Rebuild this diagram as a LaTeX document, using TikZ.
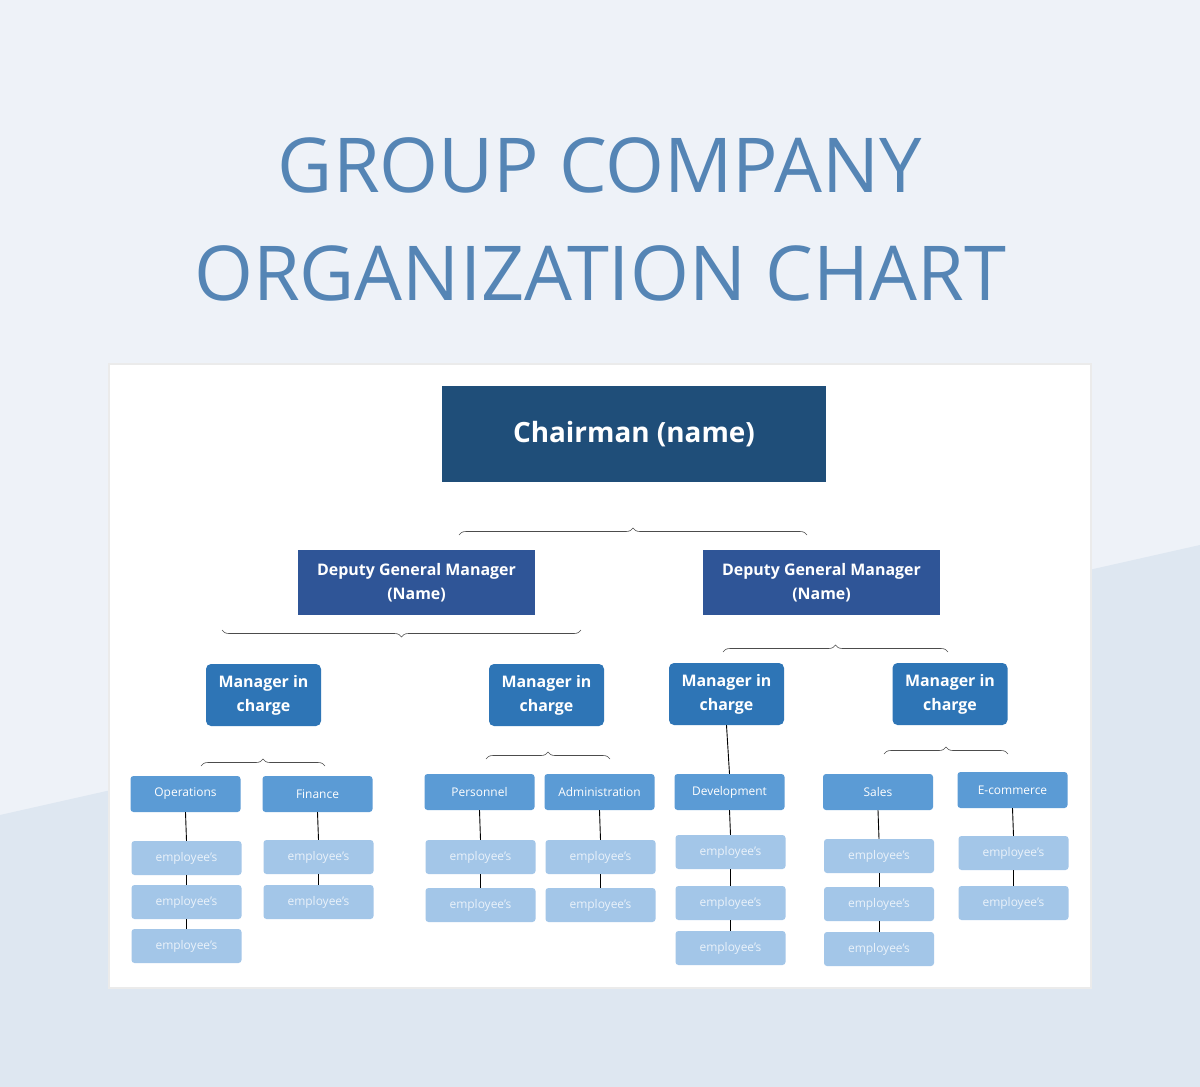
\documentclass[tikz,border=0pt]{standalone}
\usepackage{fontspec}
\setmainfont{Open Sans}
\usetikzlibrary{decorations.pathreplacing}
\definecolor{bgA}{HTML}{EEF2F8}
\definecolor{bgB}{HTML}{DEE7F1}
\definecolor{ttl}{HTML}{5585B5}
\definecolor{cch}{HTML}{1F4E79}
\definecolor{cdep}{HTML}{2F5597}
\definecolor{cman}{HTML}{2E75B6}
\definecolor{cdpt}{HTML}{5B9BD5}
\definecolor{cemp}{HTML}{A3C6E8}
\definecolor{temp}{HTML}{EAF2FA}
\tikzset{
 chair/.style={fill=cch,text=white,minimum width=384bp,minimum height=96bp,font=\fontsize{28}{32}\selectfont\bfseries},
 deputy/.style={fill=cdep,text=white,minimum width=237bp,minimum height=65bp,align=center,font=\fontsize{16}{24}\selectfont\bfseries},
 mgr/.style={fill=cman,text=white,rounded corners=5bp,minimum width=115bp,minimum height=62bp,align=center,font=\fontsize{16}{24}\selectfont\bfseries},
 dept/.style={fill=cdpt,text=white,rounded corners=3bp,minimum width=110bp,minimum height=36bp,font=\fontsize{12}{14}\selectfont},
 emp/.style={fill=cemp,text=temp,rounded corners=3bp,minimum width=110bp,minimum height=34bp,font=\fontsize{12}{14}\selectfont},
 brc/.style={draw=black!70,line width=0.6bp,decorate,decoration={brace,amplitude=7bp}},
 ln/.style={draw=black,line width=0.9bp}
}
\begin{document}
\begin{tikzpicture}[x=1bp,y=-1bp]
\fill[bgA] (0,0) rectangle (1200,1087);
\fill[bgB] (0,815) -- (1200,545) -- (1200,1087) -- (0,1087) -- cycle;
\useasboundingbox (0,0) rectangle (1200,1087);
\fill[black!8] (108,363) rectangle (1092,989);
\fill[white] (110,365) rectangle (1090,987);
\node[text=ttl,font=\fontsize{76}{80}\selectfont] (t1) at (600,165) {GROUP COMPANY};
\node[text=ttl,font=\fontsize{76}{80}\selectfont] (t2) at (600,273) {ORGANIZATION CHART};
\node[chair] (ch) at (634,434) {Chairman (name)};
\node[deputy] (d1) at (416.5,582.5) {Deputy General Manager\\(Name)};
\node[deputy] (d2) at (821.5,582.5) {Deputy General Manager\\(Name)};
\node[mgr] (m1) at (263.5,695) {Manager in\\charge};
\node[mgr] (m2) at (546.5,695) {Manager in\\charge};
\node[mgr] (m3) at (726.5,694) {Manager in\\charge};
\node[mgr] (m4) at (950,694) {Manager in\\charge};
% braces
\coordinate (b1a) at (459,535); \coordinate (b1b) at (807,535);
\draw[brc] (b1a) -- (b1b);
\coordinate (b2a) at (222,630); \coordinate (b2b) at (581,630);
\draw[brc,decoration={mirror}] (b2a) -- (b2b);
\coordinate (b3a) at (723,652); \coordinate (b3b) at (948,652);
\draw[brc] (b3a) -- (b3b);
\coordinate (b4a) at (201,766); \coordinate (b4b) at (325,766);
\draw[brc] (b4a) -- (b4b);
\coordinate (b5a) at (486,759); \coordinate (b5b) at (610,759);
\draw[brc] (b5a) -- (b5b);
\coordinate (b6a) at (884,754); \coordinate (b6b) at (1008,754);
\draw[brc] (b6a) -- (b6b);
% columns
\foreach \n/\x/\y/\t/\ys in {
 o/185.5/794/Operations/{858,902,946},
 f/317.5/794/Finance/{857,902},
 p/479.5/792/Personnel/{857,905},
 a/599.5/792/Administration/{857,905},
 v/729.5/792/Development/{852,903,948},
 s/878/792/Sales/{856,904,949},
 e/1012.5/790/E-commerce/{853,903}}{
  \node[dept] (\n) at (\x,\y) {\t};
  \foreach \yy [count=\i] in \ys {
    \node[emp] (\n\i) at (\x+1,\yy) {employee's};
    \ifnum\i=1 \begin{pgfonlayer}{main}\end{pgfonlayer}\fi
  }
}
\begin{scope}
\foreach \n/\k in {o/3,f/2,p/2,a/2,v/3,s/3,e/2}{
  \draw[ln] (\n.south) -- (\n1.north);
  \foreach \i [evaluate=\i as \j using int(\i+1)] in {1,...,\numexpr\k-1\relax}{
    \draw[ln] (\n\i.south) -- (\n\j.north);
  }
}
\end{scope}
\draw[ln] (m3.south) -- (v.north);
\end{tikzpicture}
\end{document}
